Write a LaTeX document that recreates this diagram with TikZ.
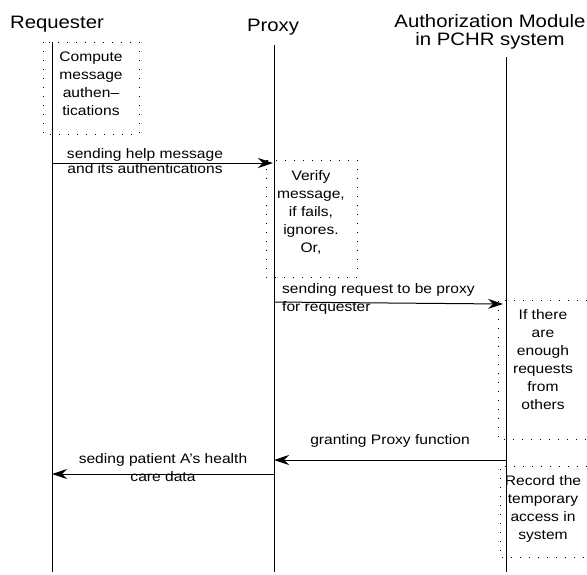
\documentclass[tikz,border=0pt]{standalone}
\usepackage{fontspec}
\setmainfont[FakeStretch=1.13]{Liberation Sans}
\usetikzlibrary{arrows.meta}

\tikzset{
  lifeline/.style={line width=0.8pt},
  msg/.style={line width=1pt,-{Stealth[length=15pt,width=10pt,inset=5pt]}},
  dotbox/.style={dash pattern=on 0.8pt off 8.2pt, line width=0.8pt},
  party/.style={font=\fontsize{18}{17.5}\selectfont, align=center, inner sep=0pt},
  note/.style={font=\fontsize{13.8}{18}\selectfont, align=center, inner sep=0pt},
}

\begin{document}
\begin{tikzpicture}[x=1pt,y=-1pt]
  \useasboundingbox (0,0) rectangle (587,574);

  % parties and lifelines
  \node[party,anchor=base] (req) at (57,28.3) {Requester};
  \node[party,anchor=base] (proxy) at (273,31.7) {Proxy};
  \node[party] (auth) at (490,32) {Authorization Module\\in PCHR system};

  \coordinate (reqtop) at (52,42);
  \coordinate (reqbot) at (52,572);
  \coordinate (proxytop) at (274,45);
  \coordinate (proxybot) at (274,572);
  \coordinate (authtop) at (506,57);
  \coordinate (authbot) at (506,572);

  \draw[lifeline] (reqtop) -- (reqbot);
  \draw[lifeline] (proxytop) -- (proxybot);
  \draw[lifeline] (authtop) -- (authbot);

  % activity boxes
  \draw[dotbox] (43,42) rectangle (139,134);
  \node[note] (compute) at (91,84) {Compute\\message\\authen–\\tications};

  \draw[dotbox] (266,160) rectangle (357,277);
  \node[note] (verify) at (311,212) {Verify\\message,\\if fails,\\ignores.\\Or,};

  \draw[dotbox] (587,300) -- (498,300) -- (498,439) -- (587,439);
  \node[note] (enough) at (543,360) {If there\\are\\enough\\requests\\from\\others};

  \draw[dotbox] (587,466) -- (500,466) -- (500,557) -- (587,557);
  \node[note] (record) at (543,509) {Record the\\temporary\\access in\\system};

  % messages
  \coordinate (m1a) at (52,163);
  \coordinate (m1b) at (273,163);
  \draw[msg] (m1a) -- (m1b);
  \node[note, font=\fontsize{13.8}{15}\selectfont] (lab1) at (145,161) {sending help message\\and its authentications};

  \coordinate (m2a) at (274,302);
  \coordinate (m2b) at (503,304);
  \draw[msg] (m2a) -- (m2b);
  \node[note, align=left, anchor=west] (lab2) at (282,299) {sending request to be proxy\\for requester};

  \coordinate (m3a) at (506,460);
  \coordinate (m3b) at (274,460);
  \draw[msg] (m3a) -- (m3b);
  \node[note] (lab3) at (390,441) {granting Proxy function};

  \coordinate (m4a) at (274,474);
  \coordinate (m4b) at (52,474);
  \draw[msg] (m4a) -- (m4b);
  \node[note] (lab4) at (163,468) {seding patient A’s health\\care data};
\end{tikzpicture}
\end{document}
